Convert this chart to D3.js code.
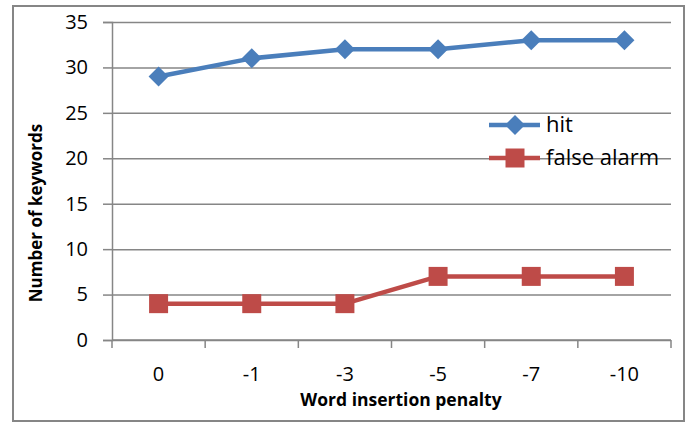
<!DOCTYPE html>
<html>
<head>
<meta charset="utf-8">
<script src="https://cdn.jsdelivr.net/npm/d3@7"></script>
<style>
  html, body { margin: 0; padding: 0; background: #fff; }
  svg { display: block; }
  text { font-family: "Open Sans", sans-serif; fill: #000; }
</style>
</head>
<body>
<svg id="chart" width="691" height="423"></svg>
<script>
// Keyword spotting results per word insertion penalty
const categories = ["0", "-1", "-3", "-5", "-7", "-10"];
const hitValues = [29, 31, 32, 32, 33, 33];
const falseAlarmValues = [4, 4, 4, 7, 7, 7];
const yTicks = [0, 5, 10, 15, 20, 25, 30, 35];
const seriesNames = ["hit", "false alarm"];

const plot = { left: 112, right: 671, top: 22, bottom: 340 };
const gridColor = "#868686";
const blue = "#4A7EBB", red = "#BE4B48";

const svg = d3.select("#chart");

// outer frame
svg.append("rect")
  .attr("x", 13).attr("y", 6)
  .attr("width", 671).attr("height", 415)
  .attr("fill", "#fff")
  .attr("stroke", gridColor).attr("stroke-width", 2);

const x = d3.scaleBand().domain(categories).range([plot.left, plot.right]).padding(0);
const y = d3.scaleLinear().domain([0, 35]).range([plot.bottom, plot.top]);

// horizontal gridlines with left tick marks
const yAxis = d3.axisLeft(y).tickValues(yTicks).tickSize(9).tickPadding(15).tickFormat(d3.format("d"));
const gy = svg.append("g").attr("transform", `translate(${plot.left},0)`).call(yAxis);
gy.select(".domain").attr("stroke", gridColor).attr("stroke-width", 1.5);
gy.selectAll(".tick line").attr("stroke", gridColor).attr("stroke-width", 1.5);
gy.selectAll(".tick text").attr("font-size", 20).attr("fill", "#000").attr("font-family", "Open Sans");
gy.selectAll(".tick").append("line")
  .attr("x1", 0).attr("x2", plot.right - plot.left)
  .attr("stroke", gridColor).attr("stroke-width", 1.5);

// x axis with ticks at category boundaries
const gx = svg.append("g").attr("transform", `translate(0,${plot.bottom})`);
gx.append("line").attr("x1", plot.left).attr("x2", plot.right)
  .attr("stroke", gridColor).attr("stroke-width", 1.5);
const bounds = categories.map(c => x(c)).concat([x(categories[categories.length - 1]) + x.bandwidth()]);
gx.selectAll("line.tk").data(bounds).join("line").attr("class", "tk")
  .attr("x1", d => d).attr("x2", d => d).attr("y1", 0).attr("y2", 8)
  .attr("stroke", gridColor).attr("stroke-width", 1.5);
gx.selectAll("text").data(categories).join("text")
  .attr("x", d => x(d) + x.bandwidth() / 2).attr("y", 41)
  .attr("text-anchor", "middle").attr("font-size", 20).text(d => d);

// axis titles
svg.append("text").attr("x", 401).attr("y", 406)
  .attr("text-anchor", "middle").attr("font-size", 17.5).attr("font-weight", "bold")
  .text("Word insertion penalty");
svg.append("text").attr("transform", "translate(42,213) rotate(-90)")
  .attr("text-anchor", "middle").attr("font-size", 17).attr("font-weight", "bold")
  .text("Number of keywords");

const cx = d => x(d) + x.bandwidth() / 2;
const line = d3.line().x(d => cx(d.c)).y(d => y(d.v));

function drawSeries(values, color, symbol, size) {
  const pts = categories.map((c, i) => ({ c, v: values[i] }));
  svg.append("path").datum(pts).attr("d", line)
    .attr("fill", "none").attr("stroke", color).attr("stroke-width", 4.5)
    .attr("stroke-linejoin", "round");
  svg.selectAll(null).data(pts).join("path")
    .attr("transform", d => `translate(${cx(d.c)},${y(d.v)})`)
    .attr("d", d3.symbol().type(symbol).size(size)())
    .attr("fill", color);
}
// diamond: 20px across, square: 19px side
const diamond = { draw(ctx, s) { const r = Math.sqrt(s) / 2; ctx.moveTo(0, -r); ctx.lineTo(r, 0); ctx.lineTo(0, r); ctx.lineTo(-r, 0); ctx.closePath(); } };
drawSeries(hitValues, blue, diamond, 400);
drawSeries(falseAlarmValues, red, d3.symbolSquare, 361);

// legend
const legend = [
  { name: seriesNames[0], color: blue, sym: diamond, size: 400, y: 125 },
  { name: seriesNames[1], color: red, sym: d3.symbolSquare, size: 361, y: 158 }
];
const lg = svg.append("g");
legend.forEach(l => {
  lg.append("line").attr("x1", 489).attr("x2", 540).attr("y1", l.y).attr("y2", l.y)
    .attr("stroke", l.color).attr("stroke-width", 4.5);
  lg.append("path").attr("transform", `translate(515,${l.y})`)
    .attr("d", d3.symbol().type(l.sym).size(l.size)()).attr("fill", l.color);
  lg.append("text").attr("x", 546).attr("y", l.y + 7).attr("font-size", 22).text(l.name);
});
</script>
</body>
</html>
